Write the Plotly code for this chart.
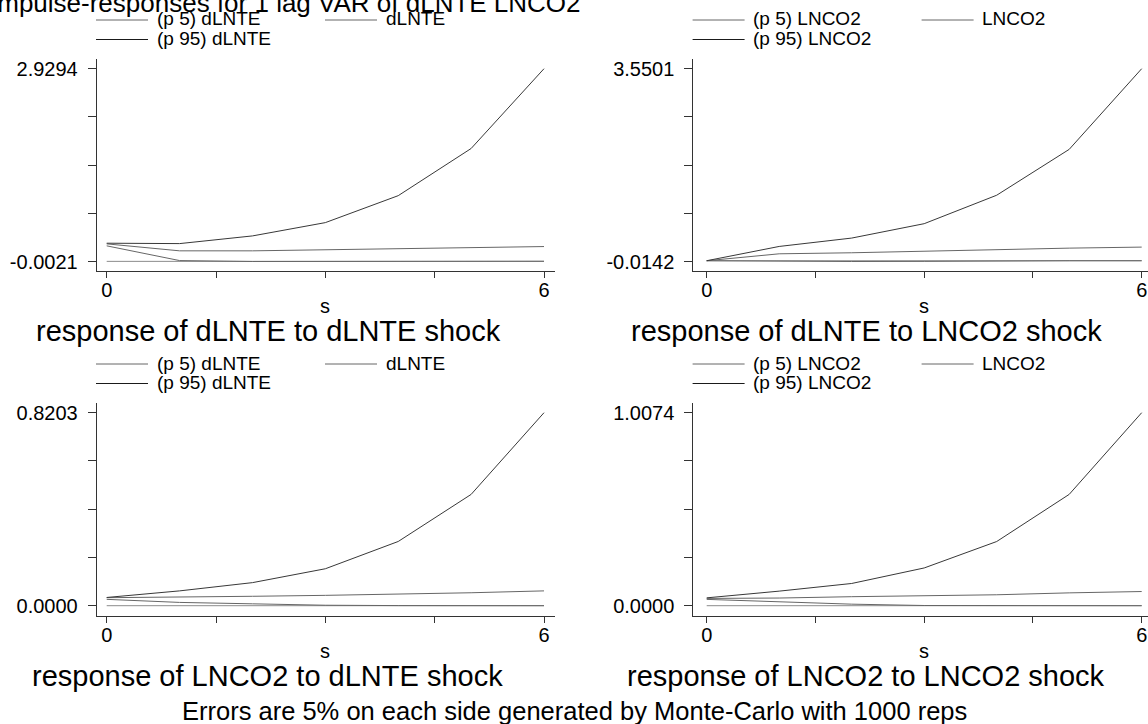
import plotly.graph_objects as go

# ---------------- data ----------------
steps = [0, 1, 2, 3, 4, 5, 6]

# response of dLNTE to dLNTE shock
p5_dlnte_dlnte = [0.236, 0.012, -0.0021, -0.0010, 0.0010, 0.0020, 0.0020]
irf_dlnte_dlnte = [0.266, 0.160, 0.160, 0.175, 0.185, 0.210, 0.225]
p95_dlnte_dlnte = [0.276, 0.270, 0.387, 0.589, 0.999, 1.716, 2.9294]

# response of dLNTE to LNCO2 shock
p5_dlnte_lnco2 = [0.000, -0.012, -0.0142, -0.012, -0.002, 0.000, 0.000]
irf_dlnte_lnco2 = [0.000, 0.128, 0.147, 0.178, 0.203, 0.233, 0.252]
p95_dlnte_lnco2 = [0.000, 0.264, 0.419, 0.685, 1.211, 2.059, 3.5501]

# response of LNCO2 to dLNTE shock
p5_lnco2_dlnte = [0.027, 0.014, 0.008, 0.002, 0.0005, 0.0002, 0.0000]
irf_lnco2_dlnte = [0.034, 0.036, 0.040, 0.044, 0.049, 0.055, 0.063]
p95_lnco2_dlnte = [0.035, 0.063, 0.098, 0.157, 0.273, 0.473, 0.8203]

# response of LNCO2 to LNCO2 shock
p5_lnco2_lnco2 = [0.033, 0.019, 0.008, 0.001, 0.0003, 0.0001, 0.0000]
irf_lnco2_lnco2 = [0.038, 0.040, 0.047, 0.052, 0.057, 0.067, 0.074]
p95_lnco2_lnco2 = [0.041, 0.076, 0.116, 0.197, 0.335, 0.581, 1.0074]

panel_titles = ["response of dLNTE to dLNTE shock", "response of dLNTE to LNCO2 shock",
                "response of LNCO2 to dLNTE shock", "response of LNCO2 to LNCO2 shock"]
impulse_names = ["dLNTE", "LNCO2", "dLNTE", "LNCO2"]
x_tick_vals = [0, 1.5, 3, 4.5, 6]
x_tick_text = ["0", "", "", "", "6"]
main_title = "Impulse-responses for 1 lag VAR of dLNTE LNCO2"
note_text = "Errors are 5% on each side generated by Monte-Carlo with 1000 reps"
x_title = "s"

series = [
    (p5_dlnte_dlnte, irf_dlnte_dlnte, p95_dlnte_dlnte),
    (p5_dlnte_lnco2, irf_dlnte_lnco2, p95_dlnte_lnco2),
    (p5_lnco2_dlnte, irf_lnco2_dlnte, p95_lnco2_dlnte),
    (p5_lnco2_lnco2, irf_lnco2_lnco2, p95_lnco2_lnco2),
]

# ---------------- layout (pixels) ----------------
W, H = 1148, 724
FONT = "Liberation Sans, Arial, sans-serif"
P5_COL = "#666666"
IRF_COL = "#666666"
P95_COL = "#383838"
ZERO_COL = "#8c8c8c"
AXIS_COL = "#333333"

geo = [
    dict(left=96.7, right=554.5, top=58.5, bottom=271.0, s0=106.7, s6=544.0, ytop=68.7, ybot=261.5, sub_x=268.5),
    dict(left=693.3, right=1148.0, top=58.5, bottom=271.0, s0=706.7, s6=1141.7, ytop=68.7, ybot=261.5, sub_x=866.0),
    dict(left=96.7, right=554.5, top=402.5, bottom=616.0, s0=106.7, s6=544.0, ytop=412.7, ybot=605.7, sub_x=267.0),
    dict(left=693.3, right=1148.0, top=402.5, bottom=616.0, s0=706.7, s6=1141.7, ytop=412.7, ybot=605.7, sub_x=866.0),
]


def px(x):
    return x / W


def py(y):
    return 1 - y / H


def fmt(v):
    s = f"{v:.4f}"
    return "0.0000" if s == "-0.0000" else s


fig = go.Figure()
annotations = []
shapes = []

for i, (g, (p5, irf, p95)) in enumerate(zip(geo, series), start=1):
    xa = "x" if i == 1 else f"x{i}"
    ya = "y" if i == 1 else f"y{i}"
    name = impulse_names[i - 1]
    for vals, label, col in ((p5, f"(p 5) {name}", P5_COL), (irf, name, IRF_COL),
                             (p95, f"(p 95) {name}", P95_COL)):
        fig.add_trace(go.Scatter(x=steps, y=vals, mode="lines", name=label,
                                 line=dict(color=col, width=1),
                                 xaxis=xa, yaxis=ya, showlegend=False, hoverinfo="x+y+name"))

    allv = p5 + irf + p95
    ymin, ymax = min(allv), max(allv)
    unit_x = (g["s6"] - g["s0"]) / (steps[-1] - steps[0])
    xr = [steps[0] - (g["s0"] - g["left"]) / unit_x, steps[-1] + (g["right"] - g["s6"]) / unit_x]
    unit_y = (g["ybot"] - g["ytop"]) / (ymax - ymin)
    yr = [ymin - (g["bottom"] - g["ybot"]) / unit_y, ymax + (g["ytop"] - g["top"]) / unit_y]
    yticks = [ymin + k * (ymax - ymin) / 4 for k in range(5)]
    ytext = [fmt(ymin), "", "", "", fmt(ymax)]

    xkey = "xaxis" if i == 1 else f"xaxis{i}"
    ykey = "yaxis" if i == 1 else f"yaxis{i}"
    fig.update_layout(**{
        xkey: dict(domain=[px(g["left"]), px(g["right"])], range=xr, anchor=ya,
                   showline=True, linecolor=AXIS_COL, linewidth=1, showgrid=False, zeroline=False,
                   ticks="outside", ticklen=6, tickcolor=AXIS_COL, tickwidth=1,
                   tickvals=x_tick_vals, ticktext=x_tick_text, ticklabelstandoff=-5,
                   tickfont=dict(family=FONT, size=20, color="black"), automargin=False),
        ykey: dict(domain=[py(g["bottom"]), py(g["top"])], range=yr, anchor=xa,
                   showline=True, linecolor=AXIS_COL, linewidth=1, showgrid=False, zeroline=False,
                   ticks="outside", ticklen=8, tickcolor=AXIS_COL, tickwidth=1,
                   tickvals=yticks, ticktext=ytext, ticklabelstandoff=6,
                   tickfont=dict(family=FONT, size=20, color="black"), automargin=False),
    })

    # zero reference line across the horizon
    shapes.append(dict(type="line", xref=xa, yref=ya, x0=steps[0], x1=steps[-1], y0=0, y1=0,
                       line=dict(color=ZERO_COL, width=1), layer="below"))

    # x-axis title
    annotations.append(dict(text=x_title, xref=xa, x=(steps[0] + steps[-1]) / 2, yref="paper",
                            y=py(g["bottom"] + 35), xanchor="center", yanchor="middle", showarrow=False,
                            font=dict(family=FONT, size=20, color="black")))
    # panel subtitle
    annotations.append(dict(text=panel_titles[i - 1], xref="paper", x=px(g["sub_x"]), yref="paper",
                            y=py(g["bottom"] + 60), xanchor="center", yanchor="middle", showarrow=False,
                            font=dict(family=FONT, size=29, color="black")))
    # legend (two columns, wrapped)
    leg = [(f"(p 5) {name}", 0, g["top"] - 39.5, P5_COL), (name, 229, g["top"] - 39.5, IRF_COL),
           (f"(p 95) {name}", 0, g["top"] - 20, "#1a1a1a")]
    for txt, dx, yy, col in leg:
        x0 = g["left"] - 0.7 + dx
        shapes.append(dict(type="line", xref="paper", yref="paper", x0=px(x0), x1=px(x0 + 52),
                           y0=py(yy + 1), y1=py(yy + 1), line=dict(color=col, width=1)))
        annotations.append(dict(text=txt, xref="paper", x=px(x0 + 58.5), yref="paper", y=py(yy),
                                xanchor="left", yanchor="middle", showarrow=False,
                                font=dict(family=FONT, size=19, color="black")))

annotations.append(dict(text=main_title, xref="paper", x=px(285), yref="paper", y=py(3),
                        xanchor="center", yanchor="middle", showarrow=False,
                        font=dict(family=FONT, size=26, color="black")))
annotations.append(dict(text=note_text, xref="paper", x=0.5, yref="paper", y=py(711),
                        xanchor="center", yanchor="middle", showarrow=False,
                        font=dict(family=FONT, size=25.5, color="black")))

fig.update_layout(width=W, height=H, margin=dict(l=0, r=0, t=0, b=0, pad=0, autoexpand=False),
                  paper_bgcolor="white", plot_bgcolor="white", showlegend=False,
                  annotations=annotations, shapes=shapes,
                  font=dict(family=FONT, color="black"))

fig.write_html("out.html",
               config={"displayModeBar": False},
               post_script="document.body.style.margin='0px';document.body.style.padding='0px';"
                           "document.documentElement.style.overflow='hidden';")
